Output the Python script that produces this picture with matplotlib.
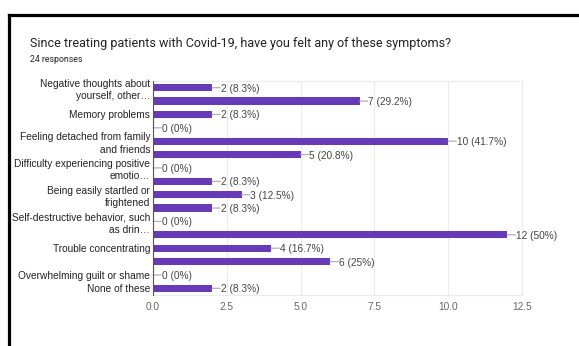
import numpy as np
from matplotlib import pyplot as plt
from matplotlib.lines import Line2D

total = 24
counts = [2, 7, 2, 0, 10, 5, 0, 2, 3, 2, 0, 12, 4, 6, 0, 2]
labels = ["Negative thoughts about\nyourself, other…", "",
          "Memory problems", "",
          "Feeling detached from family\nand friends", "",
          "Difficulty experiencing positive\nemotio…", "",
          "Being easily startled or\nfrightened", "",
          "Self-destructive behavior, such\nas drin…", "",
          "Trouble concentrating", "",
          "Overwhelming guilt or shame",
          "None of these"]
ticks = [0, 2.5, 5.0, 7.5, 10.0, 12.5]

bar_color = "#673ab7"
W, H = 579, 346

fig = plt.figure(figsize=(W / 100, H / 100), dpi=100)
ax = fig.add_axes([153 / W, 1 - 295 / H, (522 - 153) / W, (295 - 81) / H])

rows = np.arange(len(counts))
ax.barh(rows, counts, height=0.55, color=bar_color, zorder=3)
ax.set_ylim(len(counts) - 0.5, -0.5)
ax.set_xlim(0, 12.5)


def pct_text(v):
    p = f"{100 * v / total:.1f}".rstrip('0').rstrip('.')
    return f"{v} ({p}%)"


# value labels, each joined to its bar by a short grey leader
for i, v in enumerate(counts):
    ax.annotate("", xy=(v, i), xytext=(5.8, 0), textcoords='offset points',
                arrowprops=dict(arrowstyle='-', color='#b0b0b0', lw=0.9,
                                shrinkA=0, shrinkB=0), zorder=4)
    ax.annotate(pct_text(v), xy=(v, i), xytext=(6.3, 0), textcoords='offset points',
                va='center_baseline', ha='left', fontsize=7.3, color='#444444',
                family='Liberation Sans', zorder=4)

ax.set_yticks(rows)
ax.set_yticklabels(labels, fontsize=7.3, color='#222222', family='Liberation Sans',
                   linespacing=1.3)
ax.set_xticks(ticks)
ax.set_xticklabels([f"{t:.1f}" for t in ticks], fontsize=7.3, color='#666666',
                   family='Liberation Sans')
ax.tick_params(axis='both', length=0)
ax.tick_params(axis='y', pad=2)
ax.tick_params(axis='x', pad=5)

ax.grid(axis='x', color='#ebebeb', lw=0.8, zorder=0)
for side in ['top', 'right', 'bottom']:
    ax.spines[side].set_color('#ebebeb')
    ax.spines[side].set_linewidth(0.8)
ax.spines['left'].set_color('#555555')
ax.spines['left'].set_linewidth(0.8)
ax.spines['left'].set_zorder(5)

fig.text(30 / W, 1 - 44 / H, "Since treating patients with Covid-19, have you felt any of these symptoms?",
         fontsize=9, color='#212121', family='Roboto', va='center', ha='left')
fig.text(30 / W, 1 - 59 / H, "24 responses", fontsize=6.3, color='#212121',
         family='Roboto', va='center', ha='left')

# card border
fig.add_artist(Line2D([8.5 / W, 8.5 / W], [0, 1 - 15 / H], transform=fig.transFigure,
                      color='black', lw=2.3, solid_capstyle='projecting'))
fig.add_artist(Line2D([8.5 / W, 1], [1 - 15 / H, 1 - 15 / H], transform=fig.transFigure,
                      color='black', lw=2.3, solid_capstyle='projecting'))

fig.savefig("out.png", dpi=100)
